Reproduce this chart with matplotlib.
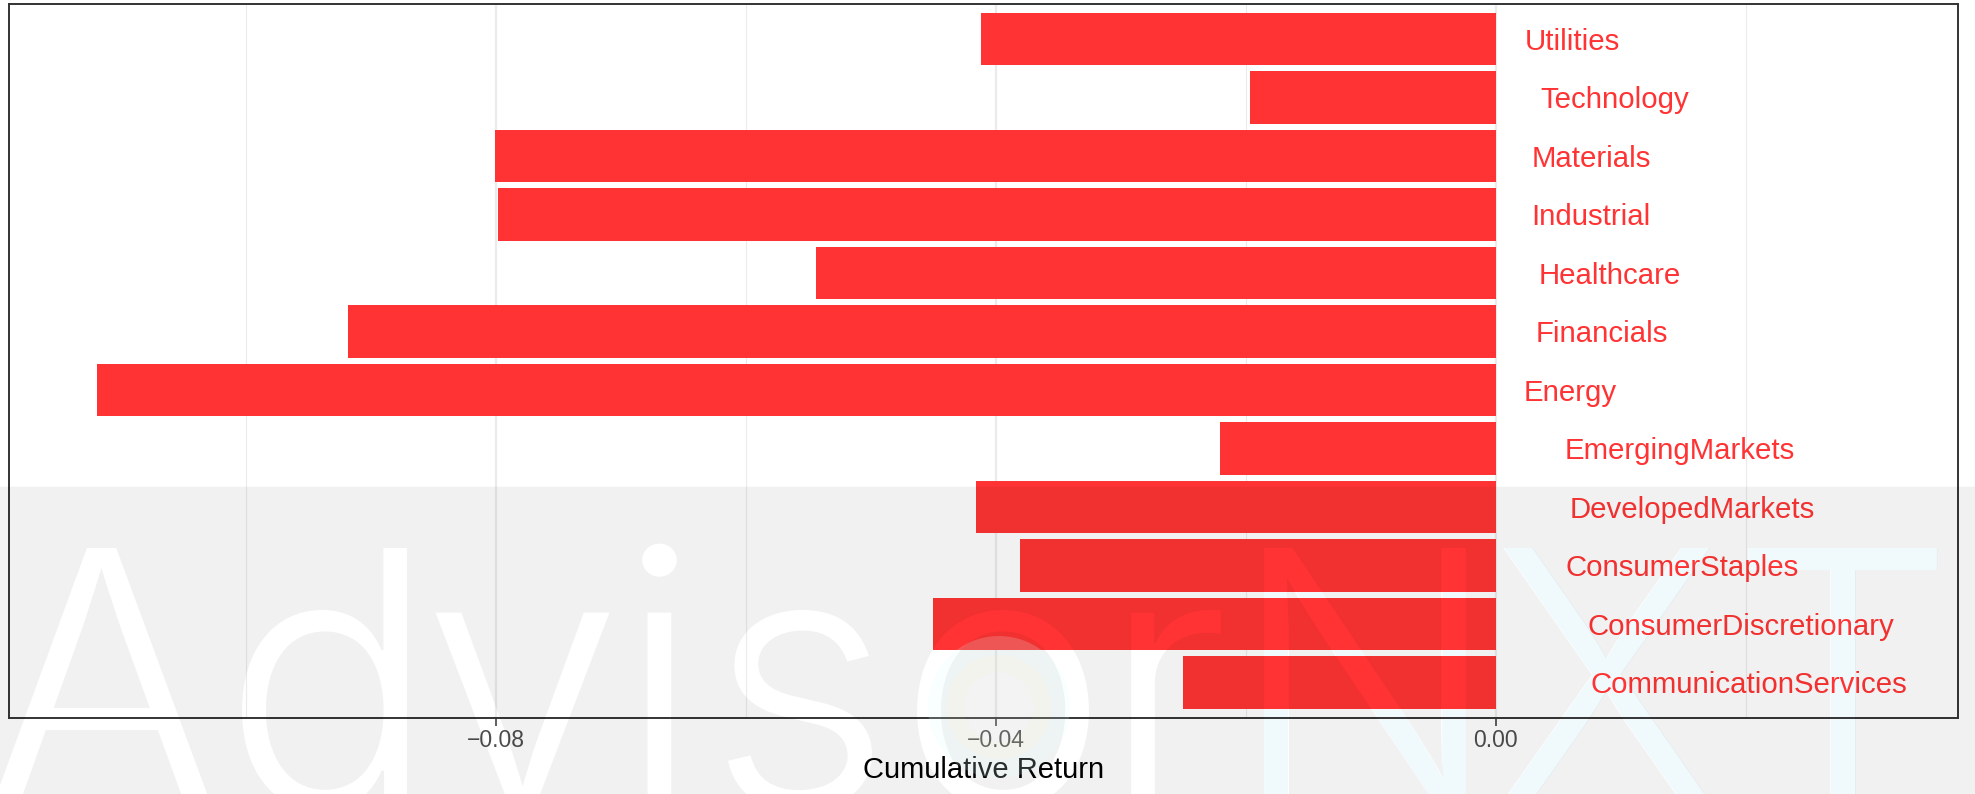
import os
import numpy as np
import matplotlib
matplotlib.use('Agg')
import matplotlib.pyplot as plt
import matplotlib.transforms as mtransforms
from matplotlib.font_manager import FontProperties, fontManager
from matplotlib.textpath import TextPath
from matplotlib.path import Path
from matplotlib.patches import PathPatch, Wedge, Circle
from matplotlib.ticker import MultipleLocator

plt.rcParams['font.family'] = ['Liberation Sans', 'DejaVu Sans']

# data (bottom to top)
sectors = ['CommunicationServices', 'ConsumerDiscretionary', 'ConsumerStaples',
           'DevelopedMarkets', 'EmergingMarkets', 'Energy', 'Financials',
           'Healthcare', 'Industrial', 'Materials', 'Technology', 'Utilities']
returns = [-0.0250, -0.0450, -0.0381, -0.0416, -0.0221, -0.1119, -0.0918,
           -0.0544, -0.0798, -0.0801, -0.0197, -0.0412]
xticks = [-0.08, -0.04, 0.00]

bar_color = '#FF3333'

# watermark letters and where their centres sit (pixels)
wm_letters = list('AdvisorNXT')
wm_centers = [102, 324.5, 522.5, 659.5, 800, 1003, 1176, 1365, 1606, 1842.5]
wm_colors = ['white'] * 7 + ['#F0FAFD'] * 3

dpi = 100
W, H = 1975, 794
fig = plt.figure(figsize=(W / dpi, H / dpi), dpi=dpi, facecolor='white')
ax = fig.add_axes([8.5 / W, 1 - 717.7 / H, (1958 - 8.5) / W, (717.7 - 4) / H])
ax.set_facecolor('none')

ypos = np.arange(1, len(sectors) + 1)
ax.barh(ypos, returns, height=0.9, color=bar_color, zorder=2)

ax.set_xlim(-0.11898, 0.03698)
ax.set_ylim(0.4, len(sectors) + 0.6)
ax.set_xticks(xticks)
ax.set_xticklabels([f'{v:.2f}'.replace('-', '\u2212') for v in xticks])
ax.xaxis.set_minor_locator(MultipleLocator(0.02))
ax.set_yticks([])
ax.set_axisbelow(True)
ax.grid(which='major', axis='x', color='#EBEBEB', lw=1.6)
ax.grid(which='minor', axis='x', color='#EBEBEB', lw=0.8)
ax.tick_params(axis='x', which='major', length=5.8, width=1.1, color='#333333',
               labelsize=16.5, labelcolor='#4D4D4D', pad=2.4)
ax.tick_params(axis='x', which='minor', length=0)
for s in ax.spines.values():
    s.set_color('#333333')
    s.set_linewidth(1.4)
ax.set_xlabel('Cumulative Return', fontsize=21, color='black', labelpad=2.7)

labels = []
for yi, name in zip(ypos, sectors):
    labels.append(ax.text(0, yi, name, ha='left', va='baseline',
                          color=bar_color, fontsize=21.2))
fig.canvas.draw()
renderer = fig.canvas.get_renderer()
for t in labels:
    w = t.get_window_extent(renderer).width
    t.set_transform(ax.transData + mtransforms.ScaledTranslation(
        0.3 * w / dpi, -10.5 / dpi, fig.dpi_scale_trans))


# watermark: white letters, grey veil with the letters cut out
def pick_font(target=25 / 259):
    for f in fontManager.ttflist:
        if os.path.basename(f.fname) == 'Inter-Light.otf':
            return FontProperties(fname=f.fname)
    fams = ['Roboto', 'Lato', 'Open Sans', 'Noto Sans', 'Inter',
            'Liberation Sans', 'DejaVu Sans']
    bad = ['Italic', 'Oblique', 'Condensed', 'Narrow', 'Mono', 'Serif', 'CJK', 'Display']
    best, bestd = FontProperties(family='Liberation Sans'), 9
    for f in fontManager.ttflist:
        b = os.path.basename(f.fname)
        if f.name not in fams or any(k in b for k in bad):
            continue
        try:
            p = FontProperties(fname=f.fname)
            cap = TextPath((0, 0), 'H', size=100, prop=p).get_extents().height
            stem = TextPath((0, 0), 'l', size=100, prop=p).get_extents().width
        except Exception:
            continue
        d = abs(stem / cap - target)
        if d < bestd:
            best, bestd = p, d
    return best


fp = pick_font()
cap100 = TextPath((0, 0), 'H', size=100, prop=fp).get_extents().height
wm_size = 100 * 259 / (cap100 * dpi / 72)
fp2 = fp.copy()
fp2.set_size(wm_size)
base_y = H - 807
polys = []
for ch, cx, col in zip(wm_letters, wm_centers, wm_colors):
    tp = TextPath((0, 0), ch, size=wm_size, prop=fp)
    ext = tp.get_extents()
    x0 = cx - (ext.x0 + ext.x1) / 2 * dpi / 72
    fig.text(x0 / W, base_y / H, ch, fontproperties=fp2, color=col,
             ha='left', va='baseline', zorder=-1)
    tr = mtransforms.Affine2D().scale(dpi / 72).translate(x0, base_y)
    polys += tr.transform_path(tp).to_polygons()


def area(p):
    return 0.5 * np.sum(p[:, 0] * np.roll(p[:, 1], -1) - np.roll(p[:, 0], -1) * p[:, 1])


gray_top = H - 486.7
rect = np.array([[-60, -120], [W + 60, -120], [W + 60, gray_top],
                 [-60, gray_top], [-60, -120]], float)
big = max(polys, key=lambda p: abs(area(p)))
if np.sign(area(rect)) == np.sign(area(big)):
    rect = rect[::-1]
veil = Path.make_compound_path(*[Path(p, closed=True) for p in [rect] + polys])
idt = mtransforms.IdentityTransform()
fig.add_artist(PathPatch(veil, transform=idt, facecolor='black',
                         edgecolor='none', alpha=0.055, zorder=5))

# faint rings inside the "o" of the logo
oc = (999, H - 707)
fig.add_artist(Wedge(oc, 71, 0, 360, width=19, transform=idt,
                     facecolor='#E1FFFF', edgecolor='none', alpha=0.18, zorder=6))
fig.add_artist(Wedge(oc, 52, 0, 360, width=17, transform=idt,
                     facecolor='#FFFFE0', edgecolor='none', alpha=0.18, zorder=6))
fig.add_artist(Circle(oc, 35, transform=idt, facecolor='white',
                      edgecolor='none', alpha=0.15, zorder=6))

fig.savefig('out.png', dpi=dpi, facecolor='white')
